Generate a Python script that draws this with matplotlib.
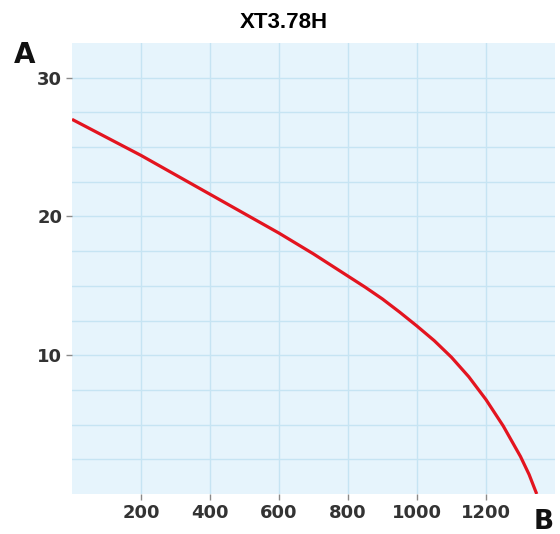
import matplotlib
matplotlib.use("Agg")
import matplotlib.pyplot as plt
import numpy as np

# flow (x) vs head (y)
flow = [0, 100, 200, 300, 400, 500, 600, 700, 800, 850, 900, 950, 1000, 1050,
        1100, 1150, 1200, 1250, 1300, 1325, 1347]
head = [27.0, 25.7, 24.4, 23.0, 21.6, 20.2, 18.8, 17.3, 15.7, 14.9, 14.05, 13.1, 12.1, 11.05,
        9.85, 8.45, 6.8, 4.9, 2.7, 1.4, 0.0]

x_ticks = [200, 400, 600, 800, 1000, 1200]
y_ticks = [10, 20, 30]
title = "XT3.78H"

W, H = 560, 534
fig = plt.figure(figsize=(W / 100, H / 100), dpi=100)
ax = fig.add_axes([72 / W, 40 / H, 483 / W, 451 / H])

ax.set_facecolor("#e6f4fc")
ax.set_xlim(0, 1400)
ax.set_ylim(0, 32.5)

# light grid
for gx in range(200, 1400, 200):
    ax.axvline(gx, color="#c6e4f3", lw=1, zorder=1)
for gy in np.arange(2.5, 32.5, 2.5):
    ax.axhline(gy, color="#c6e4f3", lw=1, zorder=1)

ax.plot(flow, head, color="#e3141f", lw=2.3, zorder=3,
        solid_capstyle="butt", solid_joinstyle="round")

for s in ax.spines.values():
    s.set_visible(False)

ax.set_xticks(x_ticks)
ax.set_yticks(y_ticks)
ax.tick_params(axis="both", length=4, width=1, color="#8a8a8a",
               labelcolor="#333333", labelsize=13, pad=3)
for lab in ax.get_xticklabels() + ax.get_yticklabels():
    lab.set_fontweight("bold")

fig.text(284 / W, 1 - 22 / H, title, ha="center", va="center",
         fontsize=16, fontweight="bold", family="Liberation Sans")
fig.text(25 / W, 1 - 55 / H, "A", ha="center", va="center",
         fontsize=20, fontweight="bold", color="#111111")
fig.text(544 / W, 1 - 522 / H, "B", ha="center", va="center",
         fontsize=19, fontweight="bold", color="#111111")

fig.savefig("out.png", dpi=100)
